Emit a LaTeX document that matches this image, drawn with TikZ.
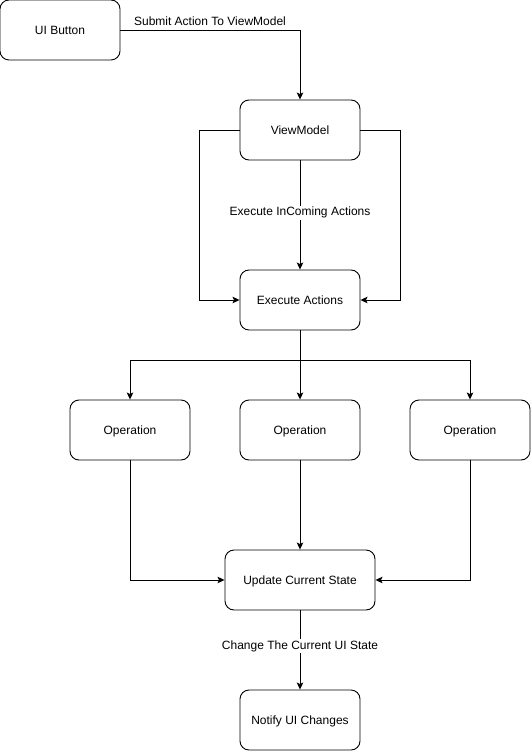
\documentclass[tikz,border=0pt]{standalone}
\usepackage{fontspec}
\setmainfont{Liberation Sans}
\usetikzlibrary{arrows.meta}
\begin{document}
\begin{tikzpicture}[x=1pt,y=-1pt,
  box/.style={draw, rounded corners=9pt, line width=0.9pt, minimum height=60pt, inner sep=0pt, text height=9pt, text depth=0pt, font=\fontsize{12}{14}\selectfont},
  conn/.style={draw, line width=0.9pt, -{Stealth[length=7pt,width=6.5pt,inset=1.5pt]}},
  plain/.style={draw, line width=0.9pt},
  lbl/.style={fill=white, inner sep=1.5pt, font=\fontsize{12}{14}\selectfont}]
\useasboundingbox (0,0) rectangle (531,751);
\node[box, minimum width=120pt] (ui) at (60,30) {UI Button};
\node[box, minimum width=120pt] (vm) at (300,130) {ViewModel};
\node[box, minimum width=120pt] (ex) at (300,300) {Execute Actions};
\node[box, minimum width=120pt] (op1) at (130,430) {Operation};
\node[box, minimum width=120pt] (op2) at (300,430) {Operation};
\node[box, minimum width=120pt] (op3) at (470,430) {Operation};
\node[box, minimum width=150pt] (up) at (300,580) {Update Current State};
\node[box, minimum width=120pt] (nt) at (300,720) {Notify UI Changes};
\coordinate (split) at (300,360);

\draw[conn] (ui.east) -| (vm.north);
\node[lbl, fill=none, anchor=south] (l1) at (210,27) {Submit Action To ViewModel};
\draw[conn] (vm.south) -- (ex.north) node[lbl, pos=0.48] (l2) {Execute InComing Actions};
\draw[conn] (vm.west) -- ++(-40,0) |- (ex.west);
\draw[conn] (vm.east) -- ++(40,0) |- (ex.east);
\draw[plain] (ex.south) -- (split);
\draw[conn] (split) -| (op1.north);
\draw[conn] (split) -| (op3.north);
\draw[conn] (split) -- (op2.north);
\draw[conn] (op1.south) |- (up.west);
\draw[conn] (op3.south) |- (up.east);
\draw[conn] (op2.south) -- (up.north);
\draw[conn] (up.south) -- (nt.north) node[lbl, pos=0.45] (l3) {Change The Current UI State};
\end{tikzpicture}
\end{document}
